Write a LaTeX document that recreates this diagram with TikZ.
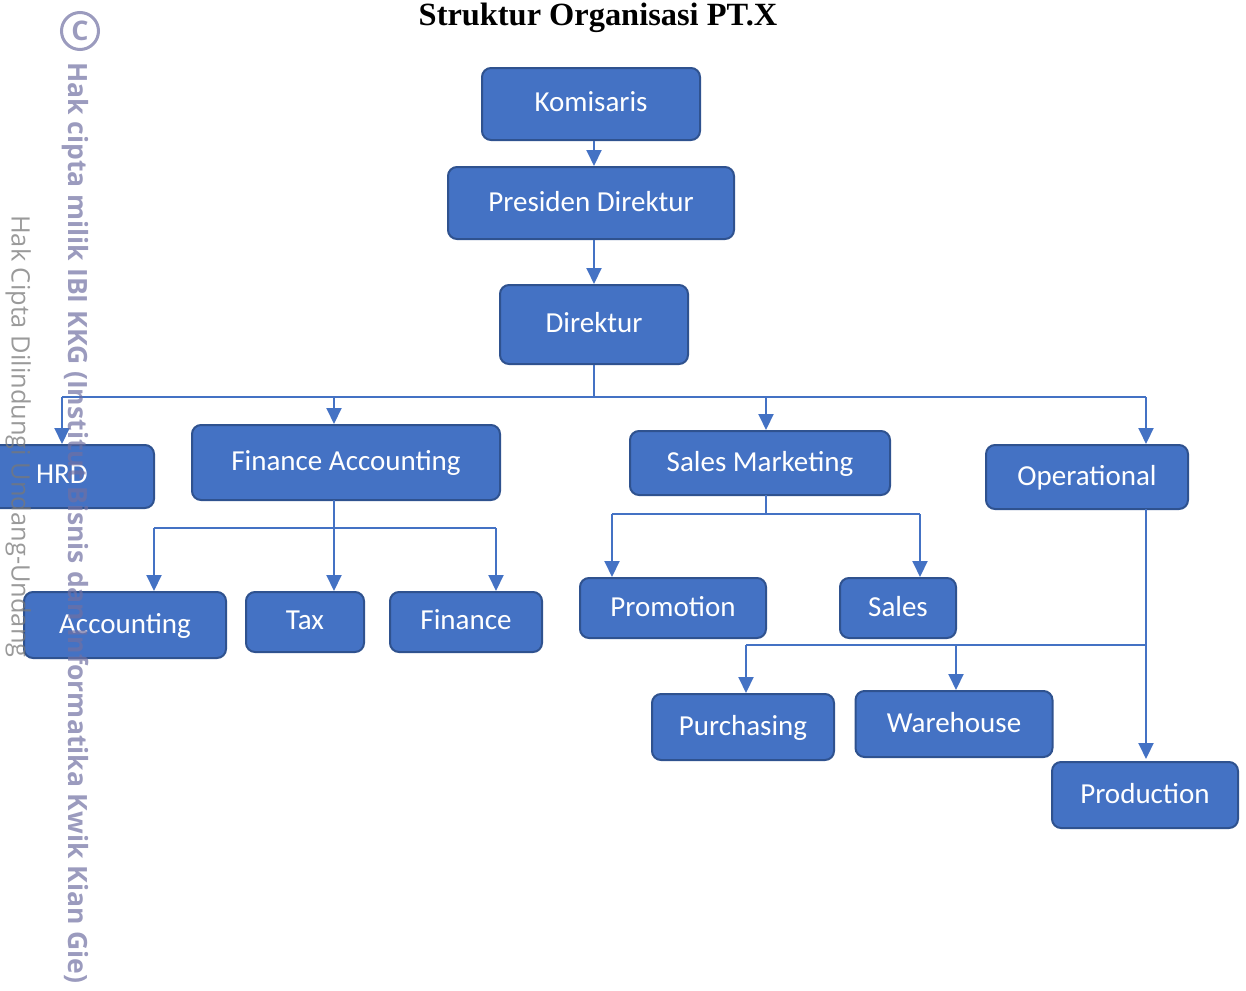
\documentclass[tikz,border=0pt]{standalone}
\usepackage{fontspec}
\setmainfont{Carlito}
\newfontfamily\titlefont{Liberation Serif}
\newfontfamily\wmfont{Open Sans}
\usetikzlibrary{arrows.meta}
\definecolor{boxfill}{HTML}{4472C4}
\definecolor{boxline}{HTML}{2F528F}
\definecolor{wmpurple}{RGB}{112,112,162}
\definecolor{wmgray}{RGB}{120,120,120}
\tikzset{
  orgbox/.style={draw=boxline, fill=boxfill, line width=2pt, rounded corners=9pt,
    text=white, font=\fontsize{29}{32}\selectfont, inner sep=0pt, text depth=4pt},
  conn/.style={draw=boxfill, line width=2pt},
  busline/.style={draw=boxfill, line width=1.3pt},
  arr/.style={conn, -{Triangle[width=15pt,length=16pt]}},
}
\begin{document}
\begin{tikzpicture}[x=1pt,y=-1pt]
\useasboundingbox (0,0) rectangle (1246,990);

\node[font=\titlefont\bfseries\fontsize{32.4}{36}\selectfont] (title) at (598,18) {Struktur Organisasi PT.X};

% boxes
\node[orgbox, minimum width=218, minimum height=72] (kom) at (591,104) {Komisaris};
\node[orgbox, minimum width=286, minimum height=72] (pres) at (591,203) {Presiden Direktur};
\node[orgbox, minimum width=188, minimum height=79] (dir) at (594,324.5) {Direktur};
\node[orgbox, minimum width=184, minimum height=63] (hrd) at (62,476.5) {HRD};
\node[orgbox, minimum width=308, minimum height=75] (fa) at (346,462.5) {Finance Accounting};
\node[orgbox, minimum width=260, minimum height=64] (sm) at (760,463) {Sales Marketing};
\node[orgbox, minimum width=202, minimum height=64] (op) at (1087,477) {Operational};
\node[orgbox, minimum width=202, minimum height=66] (acc) at (125,625) {Accounting};
\node[orgbox, minimum width=118, minimum height=60] (tax) at (305,622) {Tax};
\node[orgbox, minimum width=152, minimum height=60] (fin) at (466,622) {Finance};
\node[orgbox, minimum width=186, minimum height=60] (promo) at (673,608) {Promotion};
\node[orgbox, minimum width=116, minimum height=60] (sales) at (898,608) {Sales};
\node[orgbox, minimum width=182, minimum height=66] (purch) at (743,727) {Purchasing};
\node[orgbox, minimum width=197, minimum height=66] (wh) at (954,724) {Warehouse};
\node[orgbox, minimum width=186, minimum height=66] (prod) at (1145,795) {Production};

% junction and arrow-entry coordinates
\coordinate (jdir) at (594,397);
\coordinate (jfa) at (334,528);
\coordinate (jsm) at (766,514);
\coordinate (jop) at (1146,645);
\coordinate (faIn) at (334,424);
\coordinate (smIn) at (766,430);
\coordinate (opIn) at (1146,444);
\coordinate (hrdIn) at (62,444);
\coordinate (accIn) at (154,591);
\coordinate (taxIn) at (334,591);
\coordinate (finIn) at (496,591);
\coordinate (promoIn) at (612,577);
\coordinate (salesIn) at (920,577);
\coordinate (purchIn) at (746,693);
\coordinate (whIn) at (956,690);
\coordinate (prodIn) at (1146,759);
\coordinate (faOut) at (334,500);
\coordinate (smOut) at (766,495);
\coordinate (opOut) at (1146,509);

% connectors
\draw[arr] (kom.south -| dir.north) -- (pres.north -| dir.north);
\draw[arr] (pres.south -| dir.north) -- (dir.north);
\draw[conn, line width=1.3pt] (dir.south) -- (jdir);
\draw[busline] (hrdIn |- jdir) -- (opIn |- jdir);
\draw[arr] (hrdIn |- jdir) -- (hrdIn);
\draw[arr] (faIn |- jdir) -- (faIn);
\draw[arr] (smIn |- jdir) -- (smIn);
\draw[arr] (opIn |- jdir) -- (opIn);

\draw[conn] (faOut) -- (jfa);
\draw[busline] (accIn |- jfa) -- (finIn |- jfa);
\draw[arr] (accIn |- jfa) -- (accIn);
\draw[arr] (jfa) -- (taxIn);
\draw[arr] (finIn |- jfa) -- (finIn);

\draw[busline] (smOut) -- (jsm);
\draw[busline] (promoIn |- jsm) -- (salesIn |- jsm);
\draw[arr] (promoIn |- jsm) -- (promoIn);
\draw[arr] (salesIn |- jsm) -- (salesIn);

\draw[conn] (opOut) -- (jop);
\draw[busline] (purchIn |- jop) -- (jop);
\draw[arr] (purchIn |- jop) -- (purchIn);
\draw[arr] (whIn |- jop) -- (whIn);
\draw[arr] (jop) -- (prodIn);

% watermarks
\node[circle, draw=wmpurple, line width=3pt, minimum size=37pt, inner sep=0pt,
  text=wmpurple, opacity=0.7, font=\wmfont\bfseries\fontsize{27}{27}\selectfont]
  (copy) at (80,31) {C};
\node[anchor=north west, rotate=-90, inner sep=0pt, text=wmpurple, opacity=0.7,
  font=\wmfont\bfseries\fontsize{26.5}{28}\selectfont] (wm1) at (89,62)
  {Hak cipta milik IBI KKG (Institut Bisnis dan Informatika Kwik Kian Gie)};
\node[anchor=north west, rotate=-90, inner sep=0pt, text=wmgray, opacity=0.75,
  font=\wmfont\fontsize{25.4}{27}\selectfont] (wm2) at (31,215)
  {Hak Cipta Dilindungi Undang-Undang};
\end{tikzpicture}
\end{document}
